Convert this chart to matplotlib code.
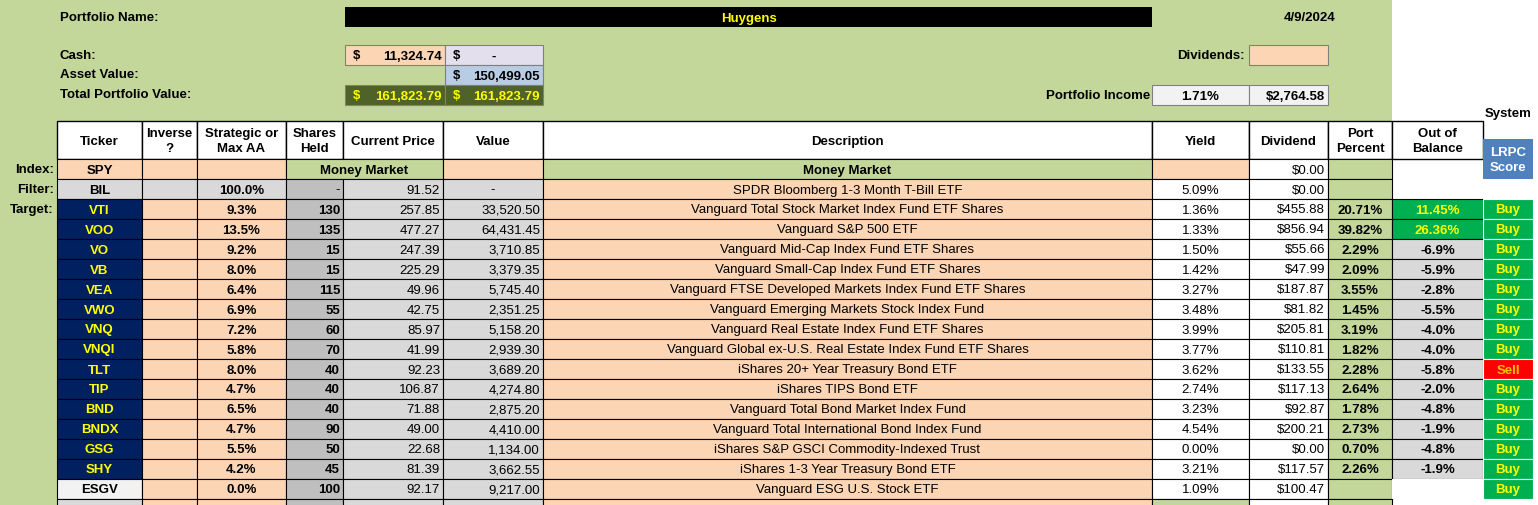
import matplotlib.pyplot as plt
from matplotlib.patches import Rectangle

plt.rcParams['font.family'] = ['Liberation Sans Narrow', 'Liberation Sans', 'DejaVu Sans']

tickers = ['VTI', 'VOO', 'VO', 'VB', 'VEA', 'VWO', 'VNQ', 'VNQI', 'TLT', 'TIP', 'BND', 'BNDX', 'GSG', 'SHY', 'ESGV']
max_aa = ['9.3%', '13.5%', '9.2%', '8.0%', '6.4%', '6.9%', '7.2%', '5.8%', '8.0%', '4.7%', '6.5%', '4.7%', '5.5%', '4.2%', '0.0%']
shares = [130, 135, 15, 15, 115, 55, 60, 70, 40, 40, 40, 90, 50, 45, 100]
prices = ['257.85', '477.27', '247.39', '225.29', '49.96', '42.75', '85.97', '41.99', '92.23', '106.87', '71.88', '49.00', '22.68', '81.39', '92.17']
values = ['33,520.50', '64,431.45', '3,710.85', '3,379.35', '5,745.40', '2,351.25', '5,158.20', '2,939.30', '3,689.20',
          '4,274.80', '2,875.20', '4,410.00', '1,134.00', '3,662.55', '9,217.00']
descriptions = ['Vanguard Total Stock Market Index Fund ETF Shares', 'Vanguard S&P 500 ETF',
                'Vanguard Mid-Cap Index Fund ETF Shares', 'Vanguard Small-Cap Index Fund ETF Shares',
                'Vanguard FTSE Developed Markets Index Fund ETF Shares', 'Vanguard Emerging Markets Stock Index Fund',
                'Vanguard Real Estate Index Fund ETF Shares', 'Vanguard Global ex-U.S. Real Estate Index Fund ETF Shares',
                'iShares 20+ Year Treasury Bond ETF', 'iShares TIPS Bond ETF', 'Vanguard Total Bond Market Index Fund',
                'Vanguard Total International Bond Index Fund', 'iShares S&P GSCI Commodity-Indexed Trust',
                'iShares 1-3 Year Treasury Bond ETF', 'Vanguard ESG U.S. Stock ETF']
yields = ['1.36%', '1.33%', '1.50%', '1.42%', '3.27%', '3.48%', '3.99%', '3.77%', '3.62%', '2.74%', '3.23%', '4.54%', '0.00%', '3.21%', '1.09%']
dividends = ['$455.88', '$856.94', '$55.66', '$47.99', '$187.87', '$81.82', '$205.81', '$110.81', '$133.55',
             '$117.13', '$92.87', '$200.21', '$0.00', '$117.57', '$100.47']
port_pct = ['20.71%', '39.82%', '2.29%', '2.09%', '3.55%', '1.45%', '3.19%', '1.82%', '2.28%', '2.64%', '1.78%', '2.73%', '0.70%', '2.26%', '']
out_of_balance = ['11.45%', '26.36%', '-6.9%', '-5.9%', '-2.8%', '-5.5%', '-4.0%', '-4.0%', '-5.8%', '-2.0%', '-4.8%', '-1.9%', '-4.8%', '-1.9%', '']
signals = ['Buy'] * 8 + ['Sell'] + ['Buy'] * 6

headers = ['Ticker', 'Inverse\n?', 'Strategic or\nMax AA', 'Shares\nHeld', 'Current Price', 'Value', 'Description',
           'Yield', 'Dividend', 'Port\nPercent', 'Out of\nBalance']

GREEN = '#C4D79B'
PEACH = '#FCD5B4'
GREY = '#D9D9D9'
DGREY = '#BFBFBF'
NAVY = '#002060'
BUYG = '#00B050'

cols = [57, 142, 197, 286, 343, 443, 543, 1152, 1249, 1328, 1392, 1483, 1533]

fig = plt.figure(figsize=(15.38, 5.06), dpi=100)
ax = fig.add_axes([0, 0, 1, 1])
ax.set_xlim(0, 1538)
ax.set_ylim(506, 0)
ax.axis('off')


def cell(x0, x1, y0, y1, fc, text='', ha='center', color='black', bold=False, size=9.5, edge='black', lw=0.8):
    ax.add_patch(Rectangle((x0, y0), x1 - x0, y1 - y0, facecolor=fc, edgecolor=edge, linewidth=lw))
    if text != '':
        if ha == 'center':
            tx = (x0 + x1) / 2
        elif ha == 'right':
            tx = x1 - 3
        else:
            tx = x0 + 3
        ax.text(tx, (y0 + y1) / 2 + 0.5, text, ha=ha, va='center', color=color, fontsize=size,
                fontweight='bold' if bold else 'normal', linespacing=1.25)


# background
ax.add_patch(Rectangle((0, 0), 1392, 122, facecolor=GREEN, edgecolor='none'))
ax.add_patch(Rectangle((0, 122), 57, 384, facecolor=GREEN, edgecolor='none'))

# top block
ax.text(60, 18, 'Portfolio Name:', va='center', fontsize=9.5, fontweight='bold')
cell(345, 1152, 8, 28, 'black', 'Huygens', color='#FFFF00', bold=True, edge='none')
ax.text(1310, 18, '4/9/2024', va='center', ha='center', fontsize=9.5, fontweight='bold')
ax.text(60, 56, 'Cash:', va='center', fontsize=9.5, fontweight='bold')
ax.text(60, 75, 'Asset Value:', va='center', fontsize=9.5, fontweight='bold')
ax.text(60, 95, 'Total Portfolio Value:', va='center', fontsize=9.5, fontweight='bold')
cell(345, 445, 46, 66, PEACH, '11,324.74', ha='right', bold=True, edge='#808080')
cell(445, 543, 46, 66, '#E4DFEC', '-', bold=True, edge='#808080')
cell(445, 543, 66, 86, '#B8CCE4', '150,499.05', ha='right', bold=True, edge='#808080')
cell(345, 445, 86, 106, '#4F6228', '161,823.79', ha='right', color='#FFFF00', bold=True, edge='#808080')
cell(445, 543, 86, 106, '#4F6228', '161,823.79', ha='right', color='#FFFF00', bold=True, edge='#808080')
for x0, y, c in [(345, 56, 'black'), (445, 56, 'black'), (445, 76, 'black'), (345, 96, '#FFFF00'), (445, 96, '#FFFF00')]:
    ax.text(x0 + 8, y, '$', va='center', fontsize=9.5, fontweight='bold', color=c)
ax.text(1245, 56, 'Dividends:', va='center', ha='right', fontsize=9.5, fontweight='bold')
cell(1249, 1328, 46, 66, PEACH, edge='#808080')
ax.text(1150, 96, 'Portfolio Income', va='center', ha='right', fontsize=9.5, fontweight='bold')
cell(1152, 1249, 86, 106, '#F2F2F2', '1.71%', bold=True, edge='#808080')
cell(1249, 1328, 86, 106, '#F2F2F2', '$2,764.58', ha='right', bold=True, edge='#808080')
ax.text(1508, 114, 'System', va='center', ha='center', fontsize=9.5, fontweight='bold')

# header row
for i, h in enumerate(headers):
    cell(cols[i], cols[i + 1], 122, 160, 'white', h, bold=True, lw=1.0)
cell(1483, 1533, 140, 180, '#4F81BD', 'LRPC\nScore', color='white', bold=True, edge='none')

# index row
y0, y1 = 160, 180
ax.text(54, 170, 'Index:', ha='right', va='center', fontsize=9.5, fontweight='bold')
cell(57, 142, y0, y1, PEACH, 'SPY', bold=True)
cell(142, 197, y0, y1, PEACH)
cell(197, 286, y0, y1, PEACH)
cell(286, 443, y0, y1, GREEN, 'Money Market', bold=True)
cell(443, 543, y0, y1, PEACH)
cell(543, 1152, y0, y1, GREEN, 'Money Market', bold=True)
cell(1152, 1249, y0, y1, PEACH)
cell(1249, 1328, y0, y1, 'white', '$0.00', ha='right')
cell(1328, 1392, y0, y1, GREEN)

# filter row
y0, y1 = 180, 200
ax.text(54, 190, 'Filter:', ha='right', va='center', fontsize=9.5, fontweight='bold')
cell(57, 142, y0, y1, GREY, 'BIL', bold=True)
cell(142, 197, y0, y1, GREY)
cell(197, 286, y0, y1, GREY, '100.0%', bold=True)
cell(286, 343, y0, y1, DGREY, '-', ha='right')
cell(343, 443, y0, y1, GREY, '91.52', ha='right')
cell(443, 543, y0, y1, GREY, '-', ha='center')
cell(543, 1152, y0, y1, PEACH, 'SPDR Bloomberg 1-3 Month T-Bill ETF')
cell(1152, 1249, y0, y1, 'white', '5.09%')
cell(1249, 1328, y0, y1, 'white', '$0.00', ha='right')
cell(1328, 1392, y0, y1, GREEN)

ax.text(54, 210, 'Target:', ha='right', va='center', fontsize=9.5, fontweight='bold')
for i, t in enumerate(tickers):
    y0 = 200 + 20 * i
    y1 = y0 + 20
    last = t == 'ESGV'
    cell(57, 142, y0, y1, '#F2F2F2' if last else NAVY, t, color='black' if last else '#FFFF00', bold=True)
    cell(142, 197, y0, y1, PEACH)
    cell(197, 286, y0, y1, PEACH, max_aa[i], bold=True)
    cell(286, 343, y0, y1, DGREY, str(shares[i]), ha='right', bold=True)
    cell(343, 443, y0, y1, GREY, prices[i], ha='right')
    cell(443, 543, y0, y1, GREY, values[i], ha='right')
    cell(543, 1152, y0, y1, PEACH, descriptions[i])
    cell(1152, 1249, y0, y1, 'white', yields[i])
    cell(1249, 1328, y0, y1, 'white', dividends[i], ha='right')
    cell(1328, 1392, y0, y1, GREEN, port_pct[i], bold=True)
    ob = out_of_balance[i]
    if ob == '':
        cell(1392, 1483, y0, y1, 'white', edge='none')
    elif ob.startswith('-'):
        cell(1392, 1483, y0, y1, GREY, ob, bold=True)
    else:
        cell(1392, 1483, y0, y1, BUYG, ob, color='#FFFF00', bold=True)
    sig = signals[i]
    cell(1483, 1533, y0, y1, '#FF0000' if sig == 'Sell' else BUYG, sig,
         color='#FFC000' if sig == 'Sell' else '#FFFF00', bold=True, edge='white')

# partial row at the bottom
for x0, x1, fc in [(57, 142, GREY), (142, 197, PEACH), (197, 286, PEACH), (286, 343, DGREY), (343, 443, GREY),
                   (443, 543, GREY), (543, 1152, PEACH), (1152, 1249, GREEN), (1249, 1328, 'white'), (1328, 1392, GREEN)]:
    cell(x0, x1, 500, 512, fc)

fig.savefig('out.png', dpi=100)
